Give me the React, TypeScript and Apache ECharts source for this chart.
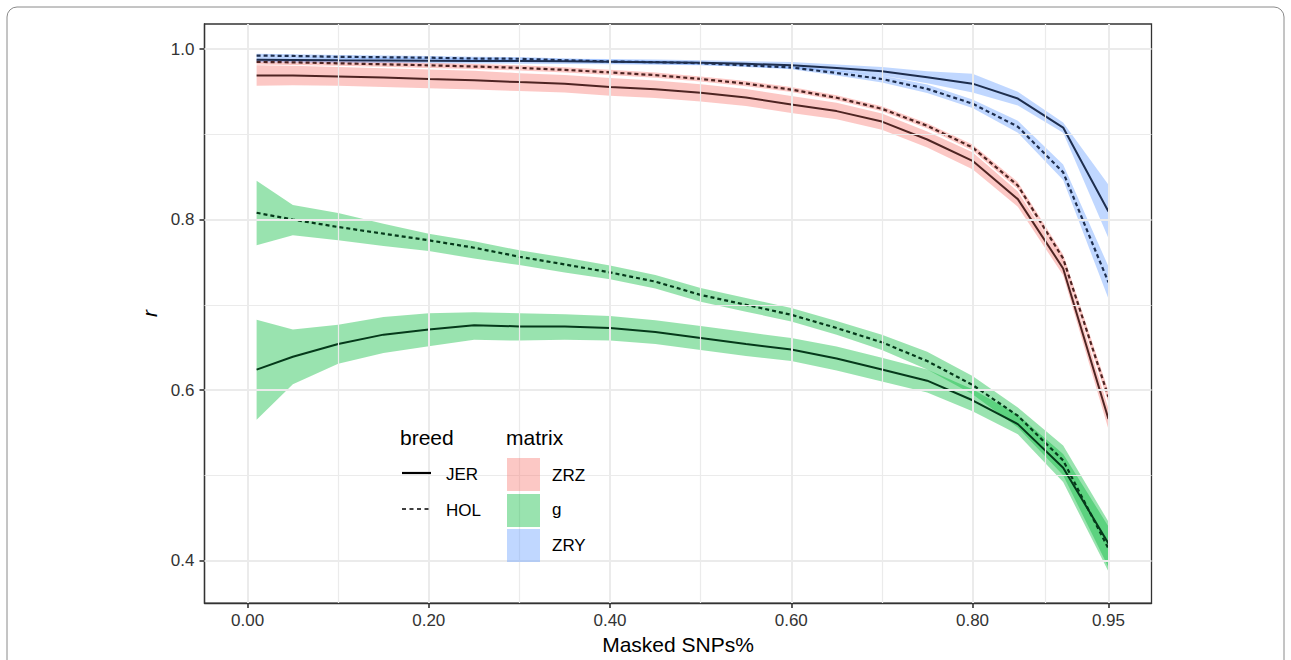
import React, { useEffect, useRef } from "react";
import * as echarts from "echarts";

const FONT = "'Liberation Sans', Arial, Helvetica, sans-serif";

const maskedPct = [0.01, 0.05, 0.1, 0.15, 0.2, 0.25, 0.3, 0.35, 0.4, 0.45, 0.5, 0.55, 0.6, 0.65, 0.7, 0.75, 0.8, 0.85, 0.9, 0.95];

// ZRY matrix
const zryJerMean = [0.9875, 0.9873, 0.987, 0.9868, 0.9865, 0.9862, 0.986, 0.9857, 0.9853, 0.9847, 0.984, 0.9828, 0.981, 0.978, 0.974, 0.967, 0.9595, 0.942, 0.908, 0.8095];
const zryJerUpper = [0.9905, 0.9903, 0.99, 0.9898, 0.9895, 0.9892, 0.989, 0.9887, 0.9883, 0.9877, 0.987, 0.9858, 0.985, 0.982, 0.979, 0.974, 0.971, 0.95, 0.914, 0.841];
const zryJerLower = [0.9845, 0.9843, 0.984, 0.9838, 0.9835, 0.9832, 0.983, 0.9827, 0.9823, 0.9817, 0.981, 0.9798, 0.977, 0.974, 0.969, 0.96, 0.949, 0.934, 0.902, 0.778];

const zryHolMean = [0.9925, 0.992, 0.991, 0.9905, 0.99, 0.989, 0.9887, 0.987, 0.9855, 0.9847, 0.9835, 0.981, 0.9785, 0.972, 0.965, 0.9534, 0.936, 0.909, 0.8555, 0.7264];
const zryHolUpper = [0.9945, 0.994, 0.993, 0.9925, 0.992, 0.991, 0.9907, 0.989, 0.9875, 0.9867, 0.9855, 0.983, 0.9805, 0.975, 0.969, 0.9584, 0.941, 0.916, 0.8645, 0.745];
const zryHolLower = [0.9905, 0.99, 0.989, 0.9885, 0.988, 0.987, 0.9867, 0.985, 0.9835, 0.9827, 0.9815, 0.979, 0.9765, 0.969, 0.961, 0.9484, 0.931, 0.902, 0.8465, 0.707];

// ZRZ matrix
const zrzJerMean = [0.969, 0.969, 0.968, 0.9666, 0.965, 0.9636, 0.9613, 0.9595, 0.9557, 0.953, 0.9487, 0.9432, 0.935, 0.9273, 0.915, 0.894, 0.869, 0.824, 0.7427, 0.566];
const zrzJerUpper = [0.981, 0.9805, 0.979, 0.9776, 0.976, 0.9746, 0.9718, 0.9698, 0.966, 0.9632, 0.9587, 0.9532, 0.945, 0.937, 0.9245, 0.9035, 0.879, 0.833, 0.751, 0.578];
const zrzJerLower = [0.957, 0.9575, 0.957, 0.9556, 0.954, 0.9526, 0.9508, 0.9492, 0.9454, 0.9428, 0.9387, 0.9332, 0.925, 0.9176, 0.9055, 0.8845, 0.859, 0.815, 0.7347, 0.554];

const zrzHolMean = [0.985, 0.9845, 0.9834, 0.9822, 0.981, 0.9796, 0.978, 0.9757, 0.9727, 0.9695, 0.965, 0.9595, 0.9526, 0.943, 0.93, 0.91, 0.8846, 0.84, 0.7544, 0.592];
const zrzHolUpper = [0.988, 0.9875, 0.9864, 0.9852, 0.984, 0.9826, 0.981, 0.9787, 0.9757, 0.9725, 0.968, 0.9625, 0.9556, 0.946, 0.933, 0.913, 0.888, 0.844, 0.759, 0.599];
const zrzHolLower = [0.982, 0.9815, 0.9804, 0.9792, 0.978, 0.9766, 0.975, 0.9727, 0.9697, 0.9665, 0.962, 0.9565, 0.9496, 0.94, 0.927, 0.907, 0.8812, 0.836, 0.7498, 0.585];

// g matrix
const gHolMean = [0.808, 0.8, 0.7913, 0.7835, 0.7757, 0.767, 0.7564, 0.7474, 0.738, 0.7272, 0.7116, 0.7, 0.6883, 0.6728, 0.656, 0.634, 0.606, 0.5698, 0.5174, 0.414];
const gHolUpper = [0.8457, 0.8172, 0.8077, 0.795, 0.7835, 0.7745, 0.764, 0.7555, 0.746, 0.735, 0.7196, 0.708, 0.6963, 0.681, 0.665, 0.645, 0.6165, 0.5795, 0.535, 0.4455];
const gHolLower = [0.77, 0.7815, 0.7757, 0.769, 0.763, 0.7544, 0.7466, 0.738, 0.73, 0.7192, 0.7036, 0.692, 0.6803, 0.6648, 0.647, 0.624, 0.595, 0.556, 0.5, 0.392];

const gJerMean = [0.624, 0.639, 0.654, 0.665, 0.671, 0.676, 0.6747, 0.6747, 0.6728, 0.668, 0.661, 0.654, 0.6475, 0.637, 0.624, 0.611, 0.588, 0.56, 0.5088, 0.42];
const gJerUpper = [0.6825, 0.671, 0.6766, 0.6856, 0.69, 0.6914, 0.69, 0.689, 0.687, 0.682, 0.675, 0.668, 0.661, 0.651, 0.638, 0.624, 0.601, 0.571, 0.525, 0.44];
const gJerLower = [0.5652, 0.6067, 0.6308, 0.6436, 0.6514, 0.659, 0.658, 0.659, 0.658, 0.654, 0.647, 0.64, 0.634, 0.623, 0.61, 0.597, 0.575, 0.548, 0.492, 0.387];

const xMajorBreaks = [0, 0.2, 0.4, 0.6, 0.8, 0.95];
const xMinorBreaks = [0.1, 0.3, 0.5, 0.7, 0.875];
const yMajorBreaks = [0.4, 0.6, 0.8, 1.0];
const yMinorBreaks = [0.5, 0.7, 0.9];

const matrixFill = { ZRZ: "#F8766D", g: "#00BA38", ZRY: "#619CFF" };
const matrixLine = { ZRZ: "#4e2422", g: "#05391a", ZRY: "#1e2e4e" };

const pairs = (ys: number[]) => maskedPct.map((x, i) => [x, ys[i]]);

function ribbon(id: string, lower: number[], upper: number[], color: string) {
  return {
    type: "custom",
    name: id + "-band",
    data: maskedPct.map((x, i) => [x, lower[i], upper[i]]),
    encode: { x: 0, y: [1, 2] },
    silent: true,
    clip: true,
    z: 2,
    renderItem: (params: any, api: any) => {
      if (params.dataIndex !== 0) return null;
      const pts: number[][] = [];
      for (let i = 0; i < maskedPct.length; i++) pts.push(api.coord([maskedPct[i], upper[i]]));
      for (let i = maskedPct.length - 1; i >= 0; i--) pts.push(api.coord([maskedPct[i], lower[i]]));
      return {
        type: "polygon",
        shape: { points: pts },
        style: { fill: color, opacity: 0.4, stroke: "none" },
      };
    },
  };
}

function meanLine(id: string, ys: number[], color: string, dashed: boolean) {
  return {
    type: "line",
    name: id,
    data: pairs(ys),
    symbol: "none",
    silent: true,
    lineStyle: { color, width: dashed ? 2.2 : 2, type: dashed ? [4, 3] : "solid", cap: "butt" },
    z: 3,
  };
}

export default function App() {
  const ref = useRef<HTMLDivElement>(null);

  useEffect(() => {
    document.body.style.margin = "0";
    const chart = echarts.init(ref.current!, null, { renderer: "svg" });

    const gridSeries = {
      type: "line",
      name: "grid",
      data: pairs(zryJerMean),
      symbol: "none",
      silent: true,
      lineStyle: { opacity: 0, width: 0 },
      z: 1,
      markLine: {
        silent: true,
        symbol: ["none", "none"],
        label: { show: false },
        emphasis: { disabled: true },
        data: [
          ...xMajorBreaks.map((v) => ({ xAxis: v, lineStyle: { color: "#EBEBEB", width: 2, type: "solid" } })),
          ...yMajorBreaks.map((v) => ({ yAxis: v, lineStyle: { color: "#EBEBEB", width: 2, type: "solid" } })),
          ...xMinorBreaks.map((v) => ({ xAxis: v, lineStyle: { color: "#EBEBEB", width: 1.2, type: "solid" } })),
          ...yMinorBreaks.map((v) => ({ yAxis: v, lineStyle: { color: "#EBEBEB", width: 1.2, type: "solid" } })),
        ],
      },
    };

    const legendText = (text: string, x: number, y: number, size: number) => ({
      type: "text",
      x,
      y,
      style: { text, fill: "#000", fontSize: size, fontFamily: FONT, verticalAlign: "middle", align: "left" },
      z: 10,
    });

    const axisLine = { show: true, onZero: false, lineStyle: { color: "#333", width: 1.3 } };
    const tickStyle = { color: "#333", width: 1.6 };

    const option: any = {
      animation: false,
      backgroundColor: "#fff",
      grid: {
        left: 204.5,
        right: 139.5,
        top: 24,
        bottom: 53,
        show: true,
        borderColor: "#333",
        borderWidth: 1.3,
        backgroundColor: "transparent",
      },
      xAxis: {
        type: "value",
        min: -0.0475,
        max: 0.9975,
        axisLine,
        splitLine: { show: false },
        axisTick: { show: true, inside: false, customValues: xMajorBreaks, length: 5, lineStyle: tickStyle },
        axisLabel: {
          customValues: xMajorBreaks,
          formatter: (v: number) => v.toFixed(2),
          color: "#333",
          fontSize: 17,
          fontFamily: FONT,
          margin: 9,
        },
        name: "Masked SNPs%",
        nameLocation: "middle",
        nameGap: 29,
        nameTextStyle: { fontSize: 21, color: "#000", fontFamily: FONT },
      },
      yAxis: {
        type: "value",
        min: 0.35,
        max: 1.0295,
        axisLine,
        splitLine: { show: false },
        axisTick: { show: true, inside: false, customValues: yMajorBreaks, length: 5, lineStyle: tickStyle },
        axisLabel: {
          customValues: yMajorBreaks,
          formatter: (v: number) => v.toFixed(1),
          color: "#333",
          fontSize: 17,
          fontFamily: FONT,
          margin: 10,
        },
        name: "r",
        nameLocation: "middle",
        nameRotate: 90,
        nameGap: 40,
        nameTextStyle: { fontSize: 21, color: "#000", fontStyle: "italic", fontFamily: FONT },
      },
      series: [
        gridSeries,
        ribbon("zrzJer", zrzJerLower, zrzJerUpper, matrixFill.ZRZ),
        ribbon("zrzHol", zrzHolLower, zrzHolUpper, matrixFill.ZRZ),
        ribbon("gJer", gJerLower, gJerUpper, matrixFill.g),
        ribbon("gHol", gHolLower, gHolUpper, matrixFill.g),
        ribbon("zryJer", zryJerLower, zryJerUpper, matrixFill.ZRY),
        ribbon("zryHol", zryHolLower, zryHolUpper, matrixFill.ZRY),
        meanLine("ZRZ JER", zrzJerMean, matrixLine.ZRZ, false),
        meanLine("ZRZ HOL", zrzHolMean, matrixLine.ZRZ, true),
        meanLine("g JER", gJerMean, matrixLine.g, false),
        meanLine("g HOL", gHolMean, matrixLine.g, true),
        meanLine("ZRY JER", zryJerMean, matrixLine.ZRY, false),
        meanLine("ZRY HOL", zryHolMean, matrixLine.ZRY, true),
      ],
      graphic: [
        {
          type: "rect",
          shape: { x: 7, y: 7, width: 1277, height: 720, r: 10 },
          style: { fill: "none", stroke: "#8a8a8a", lineWidth: 1 },
          silent: true,
          z: 0,
        },
        legendText("breed", 400, 437, 21),
        {
          type: "line",
          shape: { x1: 402, y1: 473, x2: 431, y2: 473 },
          style: { stroke: "#000", lineWidth: 2.2 },
          z: 10,
        },
        legendText("JER", 446, 474, 17),
        {
          type: "line",
          shape: { x1: 402, y1: 509, x2: 431, y2: 509 },
          style: { stroke: "#000", lineWidth: 1.6, lineDash: [4, 3.5] },
          z: 10,
        },
        legendText("HOL", 446, 510, 17),
        legendText("matrix", 506, 437, 21),
        { type: "rect", shape: { x: 507, y: 458, width: 33, height: 33 }, style: { fill: matrixFill.ZRZ, opacity: 0.4 }, z: 10 },
        { type: "rect", shape: { x: 507, y: 494, width: 33, height: 33 }, style: { fill: matrixFill.g, opacity: 0.4 }, z: 10 },
        { type: "rect", shape: { x: 507, y: 529, width: 33, height: 33 }, style: { fill: matrixFill.ZRY, opacity: 0.4 }, z: 10 },
        legendText("ZRZ", 552, 475, 17),
        legendText("g", 552, 509, 17),
        legendText("ZRY", 552, 545, 17),
      ],
    };

    chart.setOption(option);
    return () => chart.dispose();
  }, []);

  return <div ref={ref} style={{ position: "absolute", left: 0, top: 0, width: 1291, height: 660 }} />;
}
